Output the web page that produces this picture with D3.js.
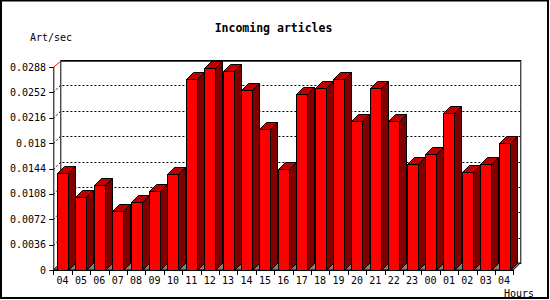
<!DOCTYPE html>
<html>
<head>
<meta charset="utf-8">
<script src="https://cdn.jsdelivr.net/npm/d3@7"></script>
<style>
  body { margin: 0; background: #fff; }
  text { font-family: "DejaVu Sans Mono", monospace; fill: #000; }
</style>
</head>
<body>
<script>
// hours shown along the bottom (04 appears twice, so bars are keyed by index)
var hours = ["04","05","06","07","08","09","10","11","12","13","14","15","16",
             "17","18","19","20","21","22","23","00","01","02","03","04"];
// incoming articles per second
var artPerSec = [0.0138, 0.0104, 0.0121, 0.0084, 0.0096, 0.0112, 0.0136, 0.0271, 0.0287,
                 0.0282, 0.0256, 0.0200, 0.0143, 0.0250, 0.0258, 0.0271, 0.0212, 0.0258,
                 0.0212, 0.0151, 0.0165, 0.0223, 0.0139, 0.0151, 0.0180];
var yTicks = [0, 0.0036, 0.0072, 0.0108, 0.0144, 0.018, 0.0216, 0.0252, 0.0288];
var yTickLabels = ["0","0.0036","0.0072","0.0108","0.0144","0.018","0.0216","0.0252","0.0288"];

var svgWidth = 550, svgHeight = 300;
var depth = 7;       // 3d offset
var barW = 11;

var svg = d3.select("body").append("svg")
  .attr("width", svgWidth)
  .attr("height", svgHeight);

// outer frame
svg.append("path")
  .attr("d", "M1,0.5 H548 M1,0 V299 M548,0 V299 M0,298 H549")
  .attr("stroke", "#000").attr("stroke-width", 2).attr("fill", "none");

var x = d3.scaleBand()
  .domain(d3.range(hours.length))
  .range([53.3, 513.3])
  .paddingInner(0).paddingOuter(0);

var y = d3.scaleLinear()
  .domain([0, 0.0288])
  .range([270, 67]);

var x0 = x.range()[0], x1 = x.range()[1];
var yb = y(0), yt = y(0.0288);

// back wall
svg.append("rect")
  .attr("x", x0 + depth + 0.5).attr("y", yt - depth + 0.5)
  .attr("width", x1 - x0).attr("height", yb - yt)
  .attr("fill", "#fff").attr("stroke", "#000");

// floor
svg.append("path")
  .attr("d", `M${x0},${yb} L${x1},${yb} L${x1+depth},${yb-depth} L${x0+depth},${yb-depth} Z`)
  .attr("fill", "#808080").attr("stroke", "#000");

// dotted grid on the back wall and left wall
var gridTicks = yTicks.filter(function(t) { return t > 0 && t < 0.0288; });
svg.append("g").selectAll("path")
  .data(gridTicks)
  .enter().append("path")
  .attr("d", d => `M${x0},${Math.round(y(d))+0.5} L${x0+depth},${Math.round(y(d))-depth+0.5} H${x1+depth}`)
  .attr("stroke", "#000").attr("stroke-dasharray", "2,2").attr("fill", "none");

// top line in red
svg.append("path")
  .attr("d", `M${x0},${yt+0.5} L${x0+depth},${yt-depth+1.5} H${x1+depth}`)
  .attr("stroke", "#ff0000").attr("fill", "none");

// bars
var bars = svg.append("g").selectAll("g")
  .data(artPerSec)
  .enter().append("g");

function bx(i) { return Math.round(x(i) + x.bandwidth() / 2 - barW / 2) + 0.5; }

// side
bars.append("path")
  .attr("d", (d, i) => {
    var l = bx(i) + barW, t = Math.round(y(d)) + 0.5, b = yb + 0.5;
    return `M${l},${b} L${l},${t} L${l+depth},${t-depth} L${l+depth},${b-depth} Z`;
  })
  .attr("fill", "#800000").attr("stroke", "#000");
// top
bars.append("path")
  .attr("d", (d, i) => {
    var l = bx(i), t = Math.round(y(d)) + 0.5;
    return `M${l},${t} L${l+depth},${t-depth} L${l+barW+depth},${t-depth} L${l+barW},${t} Z`;
  })
  .attr("fill", "#c00000").attr("stroke", "#000");
// front
bars.append("rect")
  .attr("x", (d, i) => bx(i))
  .attr("y", d => Math.round(y(d)) + 0.5)
  .attr("width", barW)
  .attr("height", d => yb - Math.round(y(d)))
  .attr("fill", "#ff0000").attr("stroke", "#000");

// y axis
svg.append("line")
  .attr("x1", x0 + 0.5).attr("x2", x0 + 0.5)
  .attr("y1", yt).attr("y2", yb + 0.5)
  .attr("stroke", "#000");
svg.append("g").selectAll("line")
  .data(yTicks)
  .enter().append("line")
  .attr("x1", x0 - 4).attr("x2", x0)
  .attr("y1", d => Math.round(y(d)) + 0.5).attr("y2", d => Math.round(y(d)) + 0.5)
  .attr("stroke", "#000");
svg.append("g").selectAll("text")
  .data(yTicks)
  .enter().append("text")
  .attr("x", 46)
  .attr("y", d => y(d))
  .attr("dy", "0.35em")
  .attr("text-anchor", "end")
  .style("font-size", "10px")
  .text((d, i) => yTickLabels[i]);

// x axis
svg.append("line")
  .attr("x1", x0).attr("x2", x1)
  .attr("y1", yb + 0.5).attr("y2", yb + 0.5)
  .attr("stroke", "#000");
svg.append("g").selectAll("line")
  .data(d3.range(hours.length + 1))
  .enter().append("line")
  .attr("x1", i => Math.round(x0 + i * x.bandwidth()) + 0.5)
  .attr("x2", i => Math.round(x0 + i * x.bandwidth()) + 0.5)
  .attr("y1", yb).attr("y2", yb + 5)
  .attr("stroke", "#000");
svg.append("g").selectAll("text")
  .data(hours)
  .enter().append("text")
  .attr("x", (d, i) => x(i) + x.bandwidth() / 2)
  .attr("y", 280)
  .attr("dy", "0.35em")
  .attr("text-anchor", "middle")
  .style("font-size", "10px")
  .text(d => d);

// titles
svg.append("text")
  .attr("x", 273.5).attr("y", 28).attr("dy", "0.35em")
  .attr("text-anchor", "middle")
  .style("font-size", "11.5px").style("font-weight", "bold")
  .text("Incoming articles");
svg.append("text")
  .attr("x", 30).attr("y", 37).attr("dy", "0.35em")
  .style("font-size", "10px")
  .text("Art/sec");
svg.append("text")
  .attr("x", 534).attr("y", 293).attr("dy", "0.35em")
  .attr("text-anchor", "end")
  .style("font-size", "10px")
  .text("Hours");
</script>
</body>
</html>
